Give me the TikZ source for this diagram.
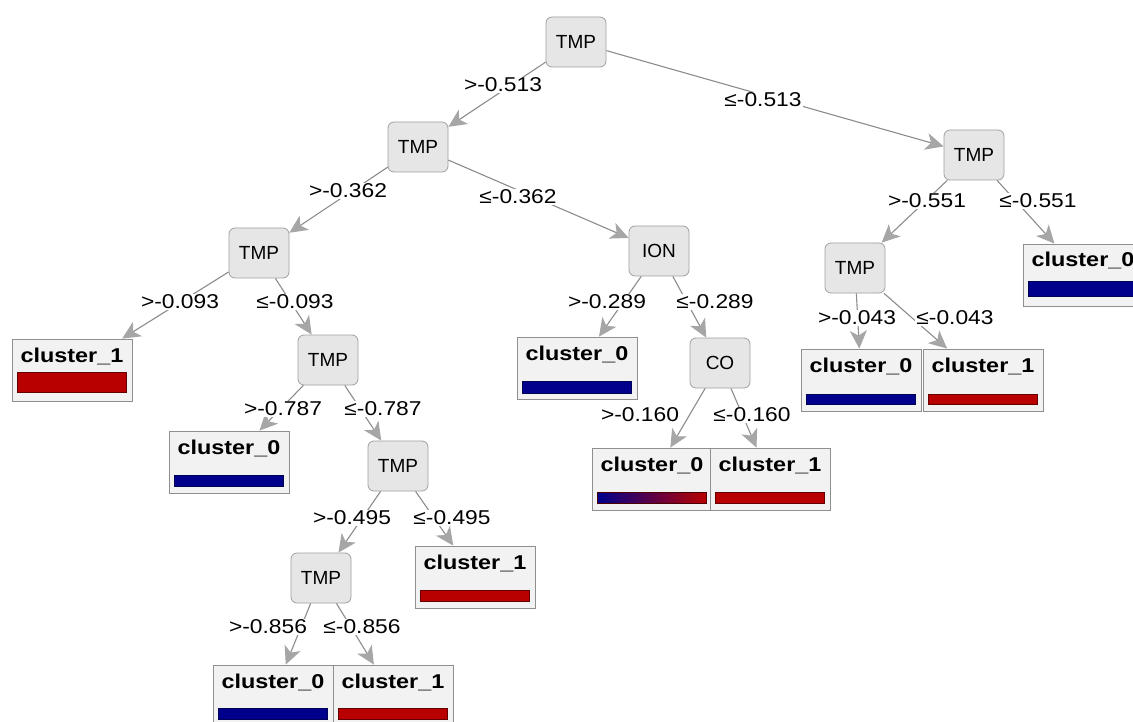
\documentclass[tikz,border=0pt]{standalone}
\usepackage{fontspec}
\setmainfont{Liberation Sans}
\newfontfamily\lblfont[FakeStretch=1.14]{Liberation Sans}
\newfontfamily\leaffont[FakeStretch=1.17]{Liberation Sans}
\usetikzlibrary{arrows.meta}

\definecolor{edgegray}{HTML}{8C8C8C}
\definecolor{tipgray}{HTML}{A6A6A6}
\definecolor{nodefill}{HTML}{E6E6E6}
\definecolor{nodeline}{HTML}{A0A0A0}
\definecolor{leafline}{HTML}{8F8F8F}
\definecolor{leaffill}{HTML}{F3F2F2}
\definecolor{cblue}{HTML}{00008C}
\definecolor{cred}{HTML}{B80000}

% bar inside a leaf box: #1 leaf name, #2 style, #3 bottom offset, #4 top offset
\newcommand\leafbar[4]{%
  \path[#2] ([xshift=6pt,yshift=#3]#1.south west) rectangle ([xshift=-6pt,yshift=#4]#1.south east);}

\begin{document}
\begin{tikzpicture}[x=1pt,y=-1pt,
  split/.style={draw=nodeline, fill=nodefill, rounded corners=6pt, line width=0.8pt,
    minimum width=60, minimum height=50, inner sep=0pt,
    font=\fontsize{19}{19}\selectfont},
  leaf/.style={draw=leafline, fill=leaffill, line width=0.8pt,
    minimum width=120, minimum height=62, inner xsep=0pt, inner ysep=5pt,
    text height=18pt, text depth=34pt,
    font=\leaffont\bfseries\fontsize{20}{20}\selectfont},
  cond/.style={fill=white, inner sep=1pt, font=\lblfont\fontsize{20}{20}\selectfont},
  edge/.style={draw=edgegray, line width=1.1pt,
    -{Stealth[length=18pt,width=17pt,inset=5pt,fill=tipgray,color=tipgray]}},
  redbar/.style={fill=cred, draw=cred!55!black, line width=0.7pt},
  bluebar/.style={fill=cblue, draw=cblue!60!black, line width=0.7pt},
  mixbar/.style={left color=cblue, right color=cred, draw=cred!40!black, line width=0.7pt}]

\useasboundingbox (0,0) rectangle (1133,722);
\clip (0,0) rectangle (1133,722);
\fill[white] (0,0) rectangle (1133,722);

% split nodes
\node[split] (root) at (576,42)  {TMP};
\node[split] (l1)   at (418,147) {TMP};
\node[split] (r1)   at (974,155) {TMP};
\node[split] (l2)   at (259,253) {TMP};
\node[split] (ion)  at (659,251) {ION};
\node[split] (r2)   at (855,268) {TMP};
\node[split] (t4)   at (328,360) {TMP};
\node[split] (co)   at (720,363) {CO};
\node[split] (t5)   at (398,466) {TMP};
\node[split] (t6)   at (321,578) {TMP};

% leaves
\node[leaf] (k1)  at (72,370)   {cluster\_1};
\node[leaf] (k2)  at (577,368)  {cluster\_0};
\node[leaf] (k3)  at (1083,275) {cluster\_0};
\node[leaf] (k4a) at (861,380)  {cluster\_0};
\node[leaf] (k4b) at (983,380)  {cluster\_1};
\node[leaf] (k5)  at (229,462)  {cluster\_0};
\node[leaf] (k6a) at (652,479)  {cluster\_0};
\node[leaf] (k6b) at (770,479)  {cluster\_1};
\node[leaf] (k7)  at (475,577)  {cluster\_1};
\node[leaf] (k8a) at (273,696)  {cluster\_0};
\node[leaf] (k8b) at (393,696)  {cluster\_1};

% class bars
\leafbar{k1}{redbar}{9pt}{29pt}
\leafbar{k2}{bluebar}{6pt}{18pt}
\leafbar{k3}{bluebar}{10pt}{25pt}
\leafbar{k4a}{bluebar}{7pt}{17pt}
\leafbar{k4b}{redbar}{7pt}{17pt}
\leafbar{k5}{bluebar}{7pt}{18pt}
\leafbar{k6a}{mixbar}{7pt}{18pt}
\leafbar{k6b}{redbar}{7pt}{18pt}
\leafbar{k7}{redbar}{7pt}{18pt}
\leafbar{k8a}{bluebar}{8pt}{19pt}
\leafbar{k8b}{redbar}{8pt}{19pt}

% connectors
\draw[edge] (root) -- (l1);
\draw[edge] (root) -- (r1);
\draw[edge] (l1) -- (l2);
\draw[edge] (l1) -- (ion);
\draw[edge] (r1) -- (r2);
\draw[edge] (r1) -- (k3);
\draw[edge] (l2) -- (k1);
\draw[edge] (l2) -- (t4);
\draw[edge] (ion) -- (k2);
\draw[edge] (ion) -- (co);
\draw[edge] (r2) -- (k4a);
\draw[edge] (r2) -- (k4b);
\draw[edge] (t4) -- (k5);
\draw[edge] (t4) -- (t5);
\draw[edge] (co) -- (k6a);
\draw[edge] (co) -- (k6b);
\draw[edge] (t5) -- (t6);
\draw[edge] (t5) -- (k7);
\draw[edge] (t6) -- (k8a);
\draw[edge] (t6) -- (k8b);

% split conditions
\node[cond] (c1)  at (503,85)  {>-0.513};
\node[cond] (c2)  at (763,100) {≤-0.513};
\node[cond] (c3)  at (348,191) {>-0.362};
\node[cond] (c4)  at (518,197) {≤-0.362};
\node[cond] (c5)  at (927,201) {>-0.551};
\node[cond] (c6)  at (1038,201) {≤-0.551};
\node[cond] (c7)  at (180,302) {>-0.093};
\node[cond] (c8)  at (295,302) {≤-0.093};
\node[cond] (c9)  at (607,302) {>-0.289};
\node[cond] (c10) at (715,302) {≤-0.289};
\node[cond] (c11) at (857,318) {>-0.043};
\node[cond] (c12) at (955,318) {≤-0.043};
\node[cond] (c13) at (283,409) {>-0.787};
\node[cond] (c14) at (383,409) {≤-0.787};
\node[cond] (c15) at (640,415) {>-0.160};
\node[cond] (c16) at (752,415) {≤-0.160};
\node[cond] (c17) at (352,518) {>-0.495};
\node[cond] (c18) at (452,518) {≤-0.495};
\node[cond] (c19) at (268,627) {>-0.856};
\node[cond] (c20) at (362,627) {≤-0.856};
\end{tikzpicture}
\end{document}
